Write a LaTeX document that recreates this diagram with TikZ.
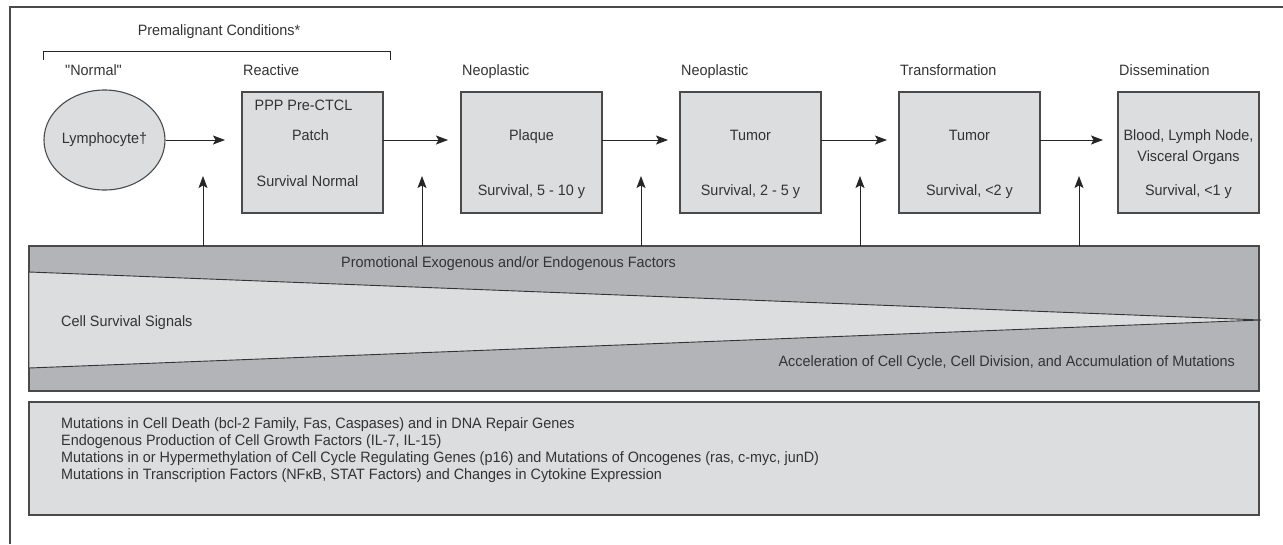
\documentclass[tikz,border=0pt]{standalone}
\usepackage{fontspec}
\newfontfamily\diagfont{Liberation Sans}[FakeStretch=0.96]
\usetikzlibrary{arrows.meta, positioning, shapes.geometric, calc}

\definecolor{boxgray}{HTML}{DCDDDF}
\definecolor{bandgray}{HTML}{B3B4B7}
\definecolor{linegray}{HTML}{4A4A4A}
\definecolor{txtgray}{HTML}{333333}

\begin{document}
\begin{tikzpicture}[
  x=1pt, y=-1pt,
  node distance=78pt,
  font=\diagfont\fontsize{15pt}{17pt}\selectfont,
  lbl/.style={inner sep=0pt, text=txtgray, text height=10.5pt, text depth=3pt},
  mutlist/.style={inner sep=0pt, text=txtgray, align=left},
  stagebox/.style={rectangle, draw=linegray, line width=1.1pt, fill=boxgray,
                   minimum width=141pt, minimum height=121pt, inner sep=0pt, outer sep=0pt},
  arrow/.style={-{Stealth[length=12pt, width=9pt, inset=2.5pt]}, line width=0.9pt, draw=black!85},
  frame/.style={draw=linegray, line width=1.3pt},
]
  \useasboundingbox (0,0) rectangle (1283,544);
  \draw[frame] (1283,7) -- (10,7) -- (10,544);

  \node[lbl] (prem) at (219,32) {Premalignant Conditions*};
  \draw[line width=0.9pt, draw=black!85] (43,60) -- (43,51) -- (390,51) -- (390,60);

  \node[ellipse, draw=linegray, line width=1.1pt, fill=boxgray, minimum width=121pt,
        minimum height=100pt, inner sep=0pt, text=txtgray] (lym) at (104.5,140) {Lymphocyte†};
  \node[stagebox] (reac) at (312.5,152.5) {};
  \node[stagebox, right=of reac] (plaq) {};
  \node[stagebox, right=of plaq] (tum) {};
  \node[stagebox, right=of tum] (trans) {};
  \node[stagebox, right=of trans] (diss) {};

  \node[lbl, anchor=west] at (65,72) {"Normal"};
  \node[lbl, anchor=west] at ([xshift=1pt, yshift=20pt]reac.north west) {Reactive};
  \node[lbl, anchor=west] at ([xshift=1pt, yshift=20pt]plaq.north west) {Neoplastic};
  \node[lbl, anchor=west] at ([xshift=1pt, yshift=20pt]tum.north west) {Neoplastic};
  \node[lbl, anchor=west] at ([xshift=1pt, yshift=20pt]trans.north west) {Transformation};
  \node[lbl, anchor=west] at ([xshift=1pt, yshift=20pt]diss.north west) {Dissemination};

  \node[lbl] at ($(reac.north)+(-9,15)$) {PPP Pre-CTCL};
  \node[lbl] at ($(reac.north)+(-2,44.5)$) {Patch};
  \node[lbl] at ($(reac.north)+(-5,90.5)$) {Survival Normal};
  \node[lbl] at ($(plaq.north)+(0,44.5)$) {Plaque};
  \node[lbl] at ($(plaq.north)+(0,99.5)$) {Survival, 5 - 10 y};
  \node[lbl] at ($(tum.north)+(0,44.5)$) {Tumor};
  \node[lbl] at ($(tum.north)+(0,99.5)$) {Survival, 2 - 5 y};
  \node[lbl] at ($(trans.north)+(0,44.5)$) {Tumor};
  \node[lbl] at ($(trans.north)+(0,99.5)$) {Survival, <2 y};
  \node[lbl] at ($(diss.north)+(0,44.5)$) {Blood, Lymph Node,};
  \node[lbl] at ($(diss.north)+(0,65.5)$) {Visceral Organs};
  \node[lbl] at ($(diss.north)+(0,99.5)$) {Survival, <1 y};

  \draw[arrow, shorten >=17pt] (lym.east) -- (lym.east -| reac.west);
  \draw[arrow, shorten >=13pt] (reac.east |- lym.east) -- (plaq.west |- lym.east);
  \draw[arrow, shorten >=12pt] (plaq.east |- lym.east) -- (tum.west |- lym.east);
  \draw[arrow, shorten >=12pt] (tum.east |- lym.east) -- (trans.west |- lym.east);
  \draw[arrow, shorten >=15pt] (trans.east |- lym.east) -- (diss.west |- lym.east);

  \node[draw=linegray, fill=bandgray, line width=1.1pt, minimum width=1230pt, minimum height=145pt,
        inner sep=0pt, outer sep=0pt, anchor=north west] (band) at (29,246) {};
  \filldraw[fill=boxgray, draw=black!80, line width=0.9pt]
    ($(band.north west)+(0,26)$) -- ($(band.east)+(2,1.5)$) -- ($(band.south west)+(0,-23)$) -- cycle;
  \node[lbl, anchor=west] at ($(band.north west)+(312,18)$) {Promotional Exogenous and/or Endogenous Factors};
  \node[lbl, anchor=west] at ($(band.west)+(32,4.5)$) {Cell Survival Signals};
  \node[lbl, anchor=east] at ($(band.south east)+(-24,-28)$) {Acceleration of Cell Cycle, Cell Division, and Accumulation of Mutations};

  \foreach \b in {reac, plaq, tum, trans, diss}
    \draw[arrow] ($(band.north -| \b.west)+(-39,0)$) -- ($(\b.south west)+(-39,-37)$);

  \node[draw=linegray, fill=boxgray, line width=1.5pt, minimum width=1230pt, minimum height=113pt,
        inner sep=0pt, outer sep=0pt, anchor=north west] (mutbox) at ($(band.south west)+(0,11)$) {};
  \node[mutlist, anchor=north west] at ($(mutbox.north west)+(32,15)$)
    {Mutations in Cell Death (bcl-2 Family, Fas, Caspases) and in DNA Repair Genes\\
     Endogenous Production of Cell Growth Factors (IL-7, IL-15)\\
     Mutations in or Hypermethylation of Cell Cycle Regulating Genes (p16) and Mutations of Oncogenes (ras, c-myc, junD)\\
     Mutations in Transcription Factors (NFκB, STAT Factors) and Changes in Cytokine Expression};
\end{tikzpicture}
\end{document}
